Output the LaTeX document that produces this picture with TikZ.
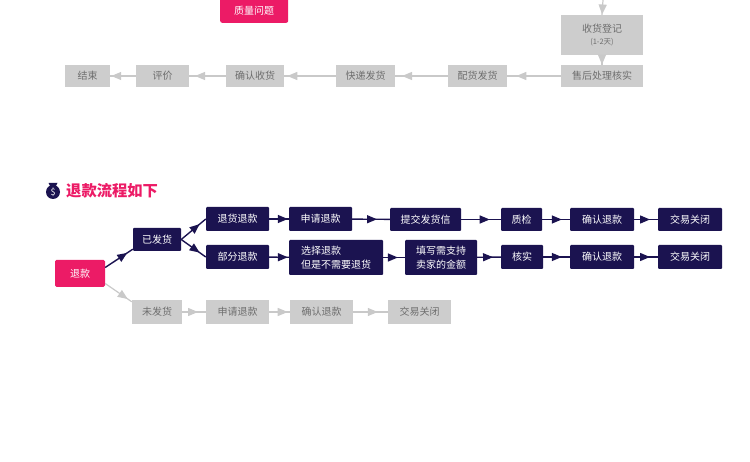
\documentclass[tikz,border=0pt]{standalone}
\usepackage{fontspec}
\setmainfont{Noto Sans CJK SC}
\usetikzlibrary{decorations.markings,arrows.meta}
\definecolor{navy}{HTML}{1B1350}
\definecolor{rosered}{HTML}{EC1B66}
\definecolor{boxgray}{HTML}{CDCDCD}
\definecolor{txtgray}{HTML}{6E6E6E}
\definecolor{linegray}{HTML}{C9C9C9}
\tikzset{
 basebox/.style={inner sep=0pt,align=center,font=\fontsize{10}{14}\selectfont},
 darkbox/.style={basebox,fill=navy,text=white,rounded corners=1pt},
 graybox/.style={basebox,fill=boxgray,text=txtgray},
 pinkbox/.style={basebox,fill=rosered,text=white,rounded corners=1.5pt},
 darkline/.style={draw=navy,line width=1.4pt},
 grayline/.style={draw=linegray,line width=1.2pt},
 grayhead/.style={postaction={decorate,decoration={markings,mark=at position #1 with {\arrow[linegray]{Triangle[length=10pt,width=8pt]}}}}},
 darkhead/.style={postaction={decorate,decoration={markings,mark=at position #1 with {\arrow[navy]{Triangle[length=10pt,width=8pt]}}}}},
}
\newcommand{\pxbox}[7]{% style,name,x0,y0,x1,y1,text
 \node[#1,minimum width=#5pt-#3pt,minimum height=#6pt-#4pt] (#2) at ({(#3+#5)/2},{(#4+#6)/2}) {#7};}
\begin{document}
\begin{tikzpicture}[x=1pt,y=-1pt]
\useasboundingbox (0,0) rectangle (750,462);
\begin{scope}
\clip (0,0) rectangle (750,462);
% top section
\node[pinkbox,minimum width=68pt,minimum height=43pt,anchor=south west,rounded corners=2pt] (quality) at (220,23) {\\[14pt]质量问题};
\coordinate (topin) at (603,0);
\pxbox{graybox}{reg}{561}{15}{643}{55}{收货登记\\[-2pt]{\fontsize{7.5}{9}\selectfont (1-2天)}}
\pxbox{graybox}{check}{561}{65}{643}{87}{售后处理核实}
\pxbox{graybox}{pei}{448}{65}{507}{87}{配货发货}
\pxbox{graybox}{kuai}{336}{65}{395}{87}{快递发货}
\pxbox{graybox}{qr}{226}{65}{284}{87}{确认收货}
\pxbox{graybox}{pj}{136}{65}{189}{87}{评价}
\pxbox{graybox}{end}{65}{65}{110}{87}{结束}
\draw[grayline,grayhead=0.98] (topin) -- (reg.north);
\draw[grayline,grayhead=0.98] (reg.south) -- (check.north);
\draw[grayline,grayhead=0.83] (check) -- (pei);
\draw[grayline,grayhead=0.87] (pei) -- (kuai);
\draw[grayline,grayhead=0.94] (kuai) -- (qr);
\draw[grayline,grayhead=0.84] (qr) -- (pj);
\draw[grayline,grayhead=0.96] (pj) -- (end);
\end{scope}
% title
\fill[navy] (53,192) circle (7pt);
\fill[navy] (48.5,183) -- (57.5,183) -- (55.5,187) -- (50.5,187) -- cycle;
\node[font=\fontsize{9}{9}\selectfont,text=white,inner sep=0pt] at (53,192) {\$};
\node[anchor=west,inner sep=0pt,text=rosered,font=\fontsize{15.3}{15.3}\selectfont\bfseries] (title) at (66,190.5) {退款流程如下};
% refund flow
\pxbox{pinkbox}{tk}{55}{260}{105}{287}{退款}
\pxbox{darkbox}{yf}{133}{228}{181}{251}{已发货}
\pxbox{darkbox}{a1}{206}{207}{269}{231}{退货退款}
\pxbox{darkbox}{a2}{289}{207}{352}{231}{申请退款}
\pxbox{darkbox}{a3}{390}{208}{461}{231}{提交发货信}
\pxbox{darkbox}{a4}{501}{208}{542}{231}{质检}
\pxbox{darkbox}{a5}{570}{208}{634}{231}{确认退款}
\pxbox{darkbox}{a6}{658}{208}{722}{231}{交易关闭}
\pxbox{darkbox}{b1}{206}{245}{269}{269}{部分退款}
\pxbox{darkbox,align=left}{b2}{289}{240}{383}{275}{选择退款\\但是不需要退货}
\pxbox{darkbox}{b3}{405}{240}{477}{275}{填写需支持\\卖家的金额}
\pxbox{darkbox}{b4}{501}{245}{543}{269}{核实}
\pxbox{darkbox}{b5}{570}{245}{634}{269}{确认退款}
\pxbox{darkbox}{b6}{658}{245}{722}{269}{交易关闭}
\pxbox{graybox}{wf}{132}{300}{182}{324}{未发货}
\pxbox{graybox}{c1}{206}{300}{269}{324}{申请退款}
\pxbox{graybox}{c2}{290}{300}{353}{324}{确认退款}
\pxbox{graybox}{c3}{388}{300}{451}{324}{交易关闭}
\draw[darkline,darkhead=0.8] ([yshift=6pt]tk.north east |- tk.east) -- ([yshift=2pt]yf.south west);
\draw[darkline,darkhead=0.75] (yf.east) -- (a1.west);
\draw[darkline,darkhead=0.75] (yf.east) -- (b1.west);
\draw[darkline,darkhead=0.95] (a1) -- (a2);
\draw[darkline,darkhead=0.66] (a2) -- (a3);
\draw[darkline,darkhead=0.72] (a3) -- (a4);
\draw[darkline,darkhead=0.71] (a4) -- (a5);
\draw[darkline,darkhead=0.67] (a5) -- (a6);
\draw[darkline,darkhead=0.95] (b1) -- (b2);
\draw[darkline,darkhead=0.68] (b2) -- (b3);
\draw[darkline,darkhead=0.67] (b3) -- (b4);
\draw[darkline,darkhead=0.7] (b4) -- (b5);
\draw[darkline,darkhead=0.67] (b5) -- (b6);
\draw[grayline,grayhead=0.85] ([yshift=-10pt]tk.south east |- tk.east) -- ([yshift=-2pt]wf.north west);
\draw[grayline,grayhead=0.67] (wf) -- (c1);
\draw[grayline,grayhead=0.9] (c1) -- (c2);
\draw[grayline,grayhead=0.71] (c2) -- (c3);
\end{tikzpicture}
\end{document}
